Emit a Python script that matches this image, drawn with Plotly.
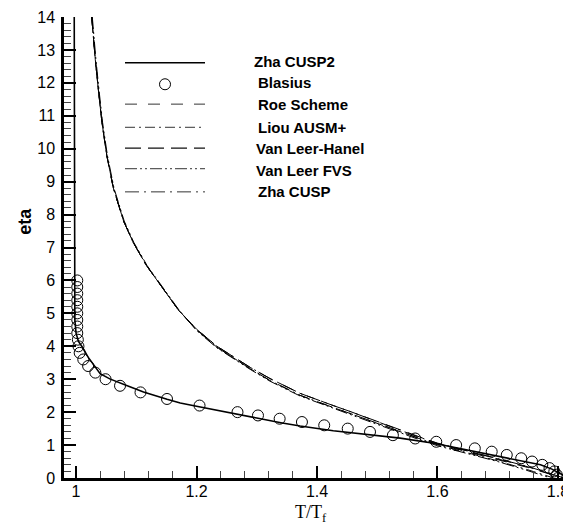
import plotly.graph_objects as go

# ---------------- data ----------------
# Zha CUSP2 (solid)
cusp2_x = [0.997, 0.997, 0.998, 1.000, 1.004, 1.0095, 1.020, 1.040, 1.056, 1.084, 1.112, 1.151, 1.173,
           1.200, 1.250, 1.300, 1.340, 1.372, 1.427, 1.483, 1.538, 1.594, 1.649, 1.700, 1.740, 1.771,
           1.790, 1.800, 1.810, 1.815]
cusp2_eta = [14.0, 6.0, 4.8, 4.4, 4.15, 4.0, 3.67, 3.17, 3.01, 2.81, 2.61, 2.39, 2.28,
             2.18, 1.99, 1.82, 1.68, 1.58, 1.435, 1.33, 1.21, 1.055, 0.85, 0.67, 0.53, 0.40,
             0.27, 0.18, 0.07, 0.0]

# Blasius solution (circles)
blasius_eta = [6.0, 5.8, 5.6, 5.4, 5.2, 5.0, 4.8, 4.6, 4.4, 4.2, 4.0, 3.8, 3.6, 3.4, 3.2, 3.0, 2.8, 2.6,
               2.4, 2.2, 2.0, 1.9, 1.8, 1.7, 1.6, 1.5, 1.4, 1.3, 1.2, 1.1, 1.0, 0.9, 0.8, 0.7, 0.6,
               0.5, 0.4, 0.3, 0.2, 0.1, 0.0]
blasius_x = [1.002, 1.002, 1.002, 1.002, 1.002, 1.002, 1.002, 1.002, 1.002, 1.003, 1.004, 1.006, 1.012,
             1.020, 1.032, 1.049, 1.073, 1.107, 1.151, 1.205, 1.268, 1.302, 1.338, 1.375, 1.412, 1.451,
             1.488, 1.526, 1.563, 1.598, 1.631, 1.662, 1.690, 1.715, 1.739, 1.757, 1.774, 1.786, 1.794,
             1.798, 1.800]

# Roe Scheme (dashed)
roe_x = [1.026, 1.029, 1.032, 1.037, 1.043, 1.051, 1.062, 1.079, 1.095, 1.117, 1.140, 1.170, 1.200, 1.234,
         1.289, 1.322, 1.372, 1.400, 1.427, 1.455, 1.483, 1.510, 1.538, 1.566, 1.600, 1.650, 1.700, 1.750,
         1.790, 1.810]
roe_eta = [14.0, 13.3, 12.7, 11.8, 10.8, 9.8, 8.8, 7.8, 7.15, 6.45, 5.85, 5.1, 4.5, 3.97,
           3.32, 2.96, 2.51, 2.31, 2.14, 1.96, 1.77, 1.59, 1.41, 1.23, 1.03, 0.80, 0.57, 0.32,
           0.10, 0.0]

# Liou AUSM+ (dash-dot)
liou_x = [1.026, 1.029, 1.032, 1.037, 1.043, 1.051, 1.062, 1.079, 1.095, 1.117, 1.140, 1.170, 1.200, 1.234,
          1.289, 1.322, 1.372, 1.400, 1.427, 1.455, 1.483, 1.510, 1.538, 1.566, 1.600, 1.650, 1.700, 1.750,
          1.780, 1.793]
liou_eta = [14.0, 13.3, 12.7, 11.8, 10.8, 9.8, 8.8, 7.8, 7.15, 6.45, 5.85, 5.1, 4.5, 3.97,
            3.32, 2.96, 2.51, 2.31, 2.14, 1.96, 1.77, 1.59, 1.41, 1.22, 1.01, 0.77, 0.52, 0.25,
            0.08, 0.0]

# Van Leer-Hanel (long dash)
hanel_x = [1.026, 1.029, 1.032, 1.037, 1.043, 1.051, 1.062, 1.079, 1.095, 1.117, 1.140, 1.170, 1.200, 1.234,
           1.289, 1.322, 1.372, 1.400, 1.427, 1.455, 1.483, 1.510, 1.538, 1.566, 1.600, 1.650, 1.700, 1.750,
           1.790, 1.810]
hanel_eta = [14.0, 13.3, 12.7, 11.8, 10.8, 9.8, 8.8, 7.8, 7.15, 6.45, 5.85, 5.1, 4.52, 4.0,
             3.36, 3.02, 2.57, 2.37, 2.20, 2.02, 1.83, 1.64, 1.45, 1.26, 1.05, 0.82, 0.59, 0.34,
             0.11, 0.0]

# Van Leer FVS (dash-dot-dot)
fvs_x = [1.027, 1.030, 1.033, 1.038, 1.044, 1.052, 1.063, 1.080, 1.096, 1.118, 1.141, 1.171, 1.200, 1.234,
         1.289, 1.322, 1.372, 1.400, 1.427, 1.455, 1.483, 1.510, 1.538, 1.566, 1.600, 1.649, 1.675, 1.700,
         1.740, 1.782, 1.788]
fvs_eta = [14.0, 13.3, 12.7, 11.8, 10.8, 9.8, 8.8, 7.8, 7.15, 6.45, 5.85, 5.1, 4.48, 3.95,
           3.30, 2.94, 2.49, 2.29, 2.12, 1.93, 1.74, 1.56, 1.38, 1.19, 0.98, 0.75, 0.62, 0.50,
           0.28, 0.05, 0.0]

# Zha CUSP (dash-dot, longer dash)
cusp_x = [1.026, 1.029, 1.032, 1.037, 1.043, 1.051, 1.062, 1.079, 1.095, 1.117, 1.140, 1.170, 1.200, 1.234,
          1.289, 1.322, 1.372, 1.400, 1.427, 1.455, 1.483, 1.510, 1.538, 1.566, 1.600, 1.650, 1.700, 1.750,
          1.790, 1.810]
cusp_eta = [14.0, 13.3, 12.7, 11.8, 10.8, 9.8, 8.8, 7.8, 7.15, 6.45, 5.85, 5.1, 4.52, 4.0,
            3.36, 3.02, 2.57, 2.37, 2.20, 2.02, 1.83, 1.64, 1.45, 1.26, 1.06, 0.83, 0.60, 0.35,
            0.12, 0.0]

x_ticks = [1.0, 1.2, 1.4, 1.6, 1.8]
x_ticktext = ["1", "1.2", "1.4", "1.6", "1.8"]
y_ticks = list(range(0, 15))

series_names = ["Zha CUSP2", "Blasius", "Roe Scheme", "Liou AUSM+", "Van Leer-Hanel", "Van Leer FVS", "Zha CUSP"]

# ---------------- styles ----------------
DASH_ROE = "12px,11px"
DASH_LIOU = "10px,4px,2px,4px"
DASH_HANEL = "16px,7px"
DASH_FVS = "12px,3px,2px,3px,2px,3px"
DASH_CUSP = "14px,5px,2px,5px"

fig = go.Figure()
fig.add_trace(go.Scatter(x=cusp2_x, y=cusp2_eta, mode="lines", line=dict(color="black", width=1.6),
                         name=series_names[0]))
fig.add_trace(go.Scatter(x=roe_x, y=roe_eta, mode="lines", line=dict(color="black", width=1, dash=DASH_ROE),
                         name=series_names[2]))
fig.add_trace(go.Scatter(x=liou_x, y=liou_eta, mode="lines", line=dict(color="black", width=1, dash=DASH_LIOU),
                         name=series_names[3]))
fig.add_trace(go.Scatter(x=hanel_x, y=hanel_eta, mode="lines", line=dict(color="black", width=1, dash=DASH_HANEL),
                         name=series_names[4]))
fig.add_trace(go.Scatter(x=fvs_x, y=fvs_eta, mode="lines", line=dict(color="black", width=1, dash=DASH_FVS),
                         name=series_names[5]))
fig.add_trace(go.Scatter(x=cusp_x, y=cusp_eta, mode="lines", line=dict(color="black", width=1, dash=DASH_CUSP),
                         name=series_names[6]))
fig.add_trace(go.Scatter(x=blasius_x, y=blasius_eta, mode="markers",
                         marker=dict(symbol="circle-open", size=11, color="black", line=dict(width=1)),
                         name=series_names[1]))

# page offset (default body margin) and plot area in window pixels
OFF = 8
L, R, T, B = 64, 570, 14, 478
W, H = 571, 527
FW, FH = W - OFF, H - OFF


def px(xp):
    return (xp - L) / (R - L)


def py(yp):
    return (B - yp) / (B - T)


# manual legend
leg_x0, leg_x1 = 125, 205
rows = [
    (series_names[0], 60, 58.5, 252, "solid", "black", 1.6),
    (series_names[1], 81.7, 80, 256, None, None, None),
    (series_names[2], 101.7, 101.7, 256, DASH_ROE, "#333", 1),
    (series_names[3], 125, 125, 256, DASH_LIOU, "#333", 1),
    (series_names[4], 146, 146, 254, DASH_HANEL, "#111", 1.2),
    (series_names[5], 166.7, 168.3, 254, DASH_FVS, "#333", 1),
    (series_names[6], 190, 190, 256, DASH_CUSP, "#333", 1),
]
shapes = []
annotations = []
for name, ly, ty, tx, dash, col, w in rows:
    if dash is None:
        shapes.append(dict(type="circle", xref="paper", yref="paper", xsizemode="pixel", ysizemode="pixel",
                           xanchor=px(165), yanchor=py(ly), x0=-5.5, x1=5.5, y0=-5.5, y1=5.5,
                           line=dict(color="black", width=1)))
    else:
        shapes.append(dict(type="line", xref="paper", yref="paper", x0=px(leg_x0), x1=px(leg_x1),
                           y0=py(ly), y1=py(ly), line=dict(color=col, width=w, dash=dash)))
    annotations.append(dict(text="<b>%s</b>" % name, xref="paper", yref="paper", x=px(tx), y=py(ty),
                            xanchor="left", yanchor="middle", showarrow=False,
                            font=dict(family="Arial, Liberation Sans", size=15, color="black")))

annotations.append(dict(text="<b>eta</b>", xref="paper", yref="paper", x=px(25), y=py(220), textangle=-90,
                        xanchor="center", yanchor="middle", showarrow=False,
                        font=dict(family="Arial, Liberation Sans", size=18, color="black")))
annotations.append(dict(text="T/T<sub>f</sub>", xref="paper", yref="paper", x=px(311), y=py(514),
                        xanchor="center", yanchor="middle", showarrow=False,
                        font=dict(family="Times New Roman, Liberation Serif", size=18, color="black")))

fig.update_layout(
    width=FW, height=FH,
    margin=dict(l=L - OFF, r=W - R, t=T - OFF, b=H - B),
    paper_bgcolor="white", plot_bgcolor="white",
    showlegend=False,
    shapes=shapes, annotations=annotations,
    xaxis=dict(range=[0.98, 1.82], tickvals=x_ticks, ticktext=x_ticktext, ticks="inside", ticklen=12,
               tickwidth=1.6, tickcolor="black", showline=True, linewidth=2.5, linecolor="black",
               showgrid=False, zeroline=False, ticklabeloverflow="allow", ticklabelstandoff=-3,
               tickfont=dict(family="Arial, Liberation Sans", size=16, color="black"),
               minor=dict(dtick=0.04, tick0=1.0, ticks="inside", ticklen=7, tickwidth=1, tickcolor="#444",
                          showgrid=False)),
    yaxis=dict(range=[0, 14], tickvals=y_ticks, ticks="inside", ticklen=12,
               tickwidth=1.6, tickcolor="black", showline=True, linewidth=2.5, linecolor="black",
               showgrid=False, zeroline=False, ticklabeloverflow="allow", ticklabelstandoff=3,
               tickfont=dict(family="Arial, Liberation Sans", size=16, color="black"),
               minor=dict(dtick=0.2, tick0=0, ticks="inside", ticklen=7, tickwidth=1, tickcolor="#444",
                          showgrid=False)),
)

fig.write_html("out.html")
